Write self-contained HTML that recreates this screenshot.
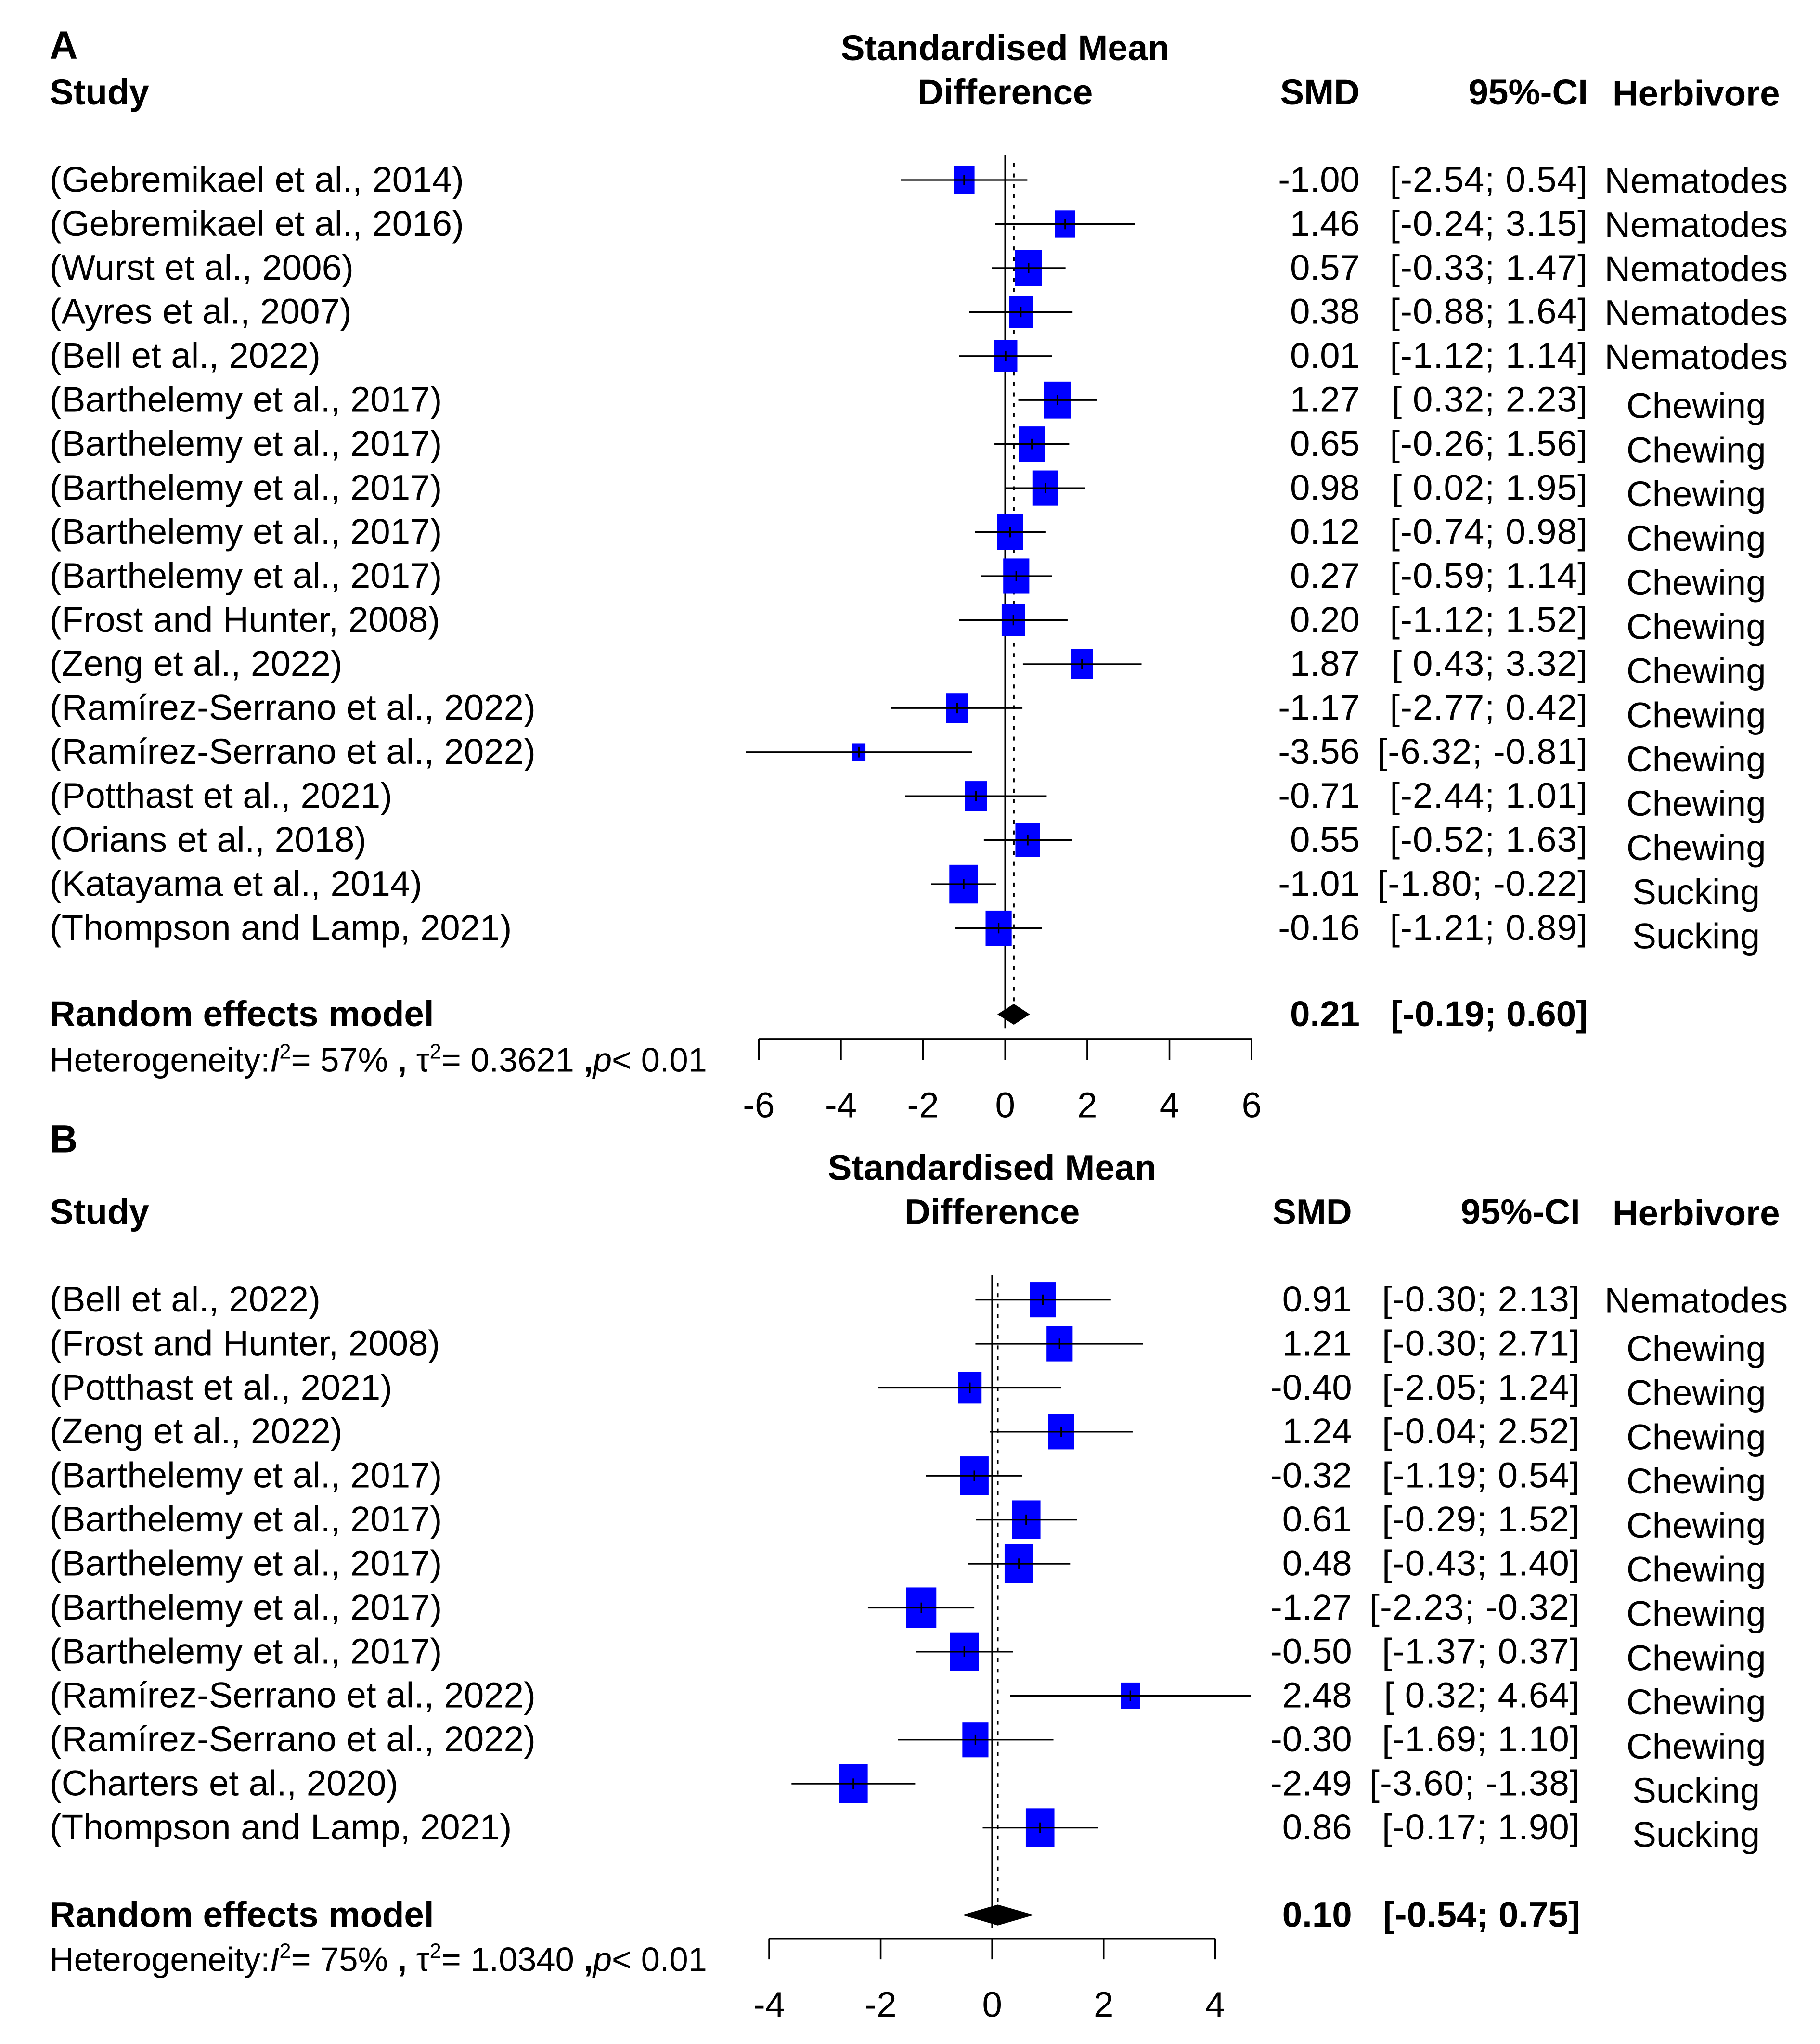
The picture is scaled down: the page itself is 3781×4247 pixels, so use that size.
<!DOCTYPE html>
<html><head><meta charset="utf-8">
<style>
html,body{margin:0;padding:0;background:#fff;}
svg{display:block;}
text{font-family:"Liberation Sans",Arial,sans-serif;fill:#000;}
</style></head>
<body>
<svg id="chart" width="3781" height="4247" viewBox="0 0 1389 1560" xmlns="http://www.w3.org/2000/svg">
<g id="root" transform="scale(0.995)"></g>
</svg>
<script>
// ---- Panel A data ----
const studiesA = ["(Gebremikael et al., 2014)","(Gebremikael et al., 2016)","(Wurst et al., 2006)","(Ayres et al., 2007)","(Bell et al., 2022)","(Barthelemy et al., 2017)","(Barthelemy et al., 2017)","(Barthelemy et al., 2017)","(Barthelemy et al., 2017)","(Barthelemy et al., 2017)","(Frost and Hunter, 2008)","(Zeng et al., 2022)","(Ramírez-Serrano et al., 2022)","(Ramírez-Serrano et al., 2022)","(Potthast et al., 2021)","(Orians et al., 2018)","(Katayama et al., 2014)","(Thompson and Lamp, 2021)"];
const smdA = [-1.00,1.46,0.57,0.38,0.01,1.27,0.65,0.98,0.12,0.27,0.20,1.87,-1.17,-3.56,-0.71,0.55,-1.01,-0.16];
const lowA = [-2.54,-0.24,-0.33,-0.88,-1.12,0.32,-0.26,0.02,-0.74,-0.59,-1.12,0.43,-2.77,-6.32,-2.44,-0.52,-1.80,-1.21];
const highA = [0.54,3.15,1.47,1.64,1.14,2.23,1.56,1.95,0.98,1.14,1.52,3.32,0.42,-0.81,1.01,1.63,-0.22,0.89];
const weightA = [8,7.7,10.3,9,9,10.5,10,10,10,10,9,8.5,8.5,5,8.5,9.5,11,10];
const herbA = ["Nematodes","Nematodes","Nematodes","Nematodes","Nematodes","Chewing","Chewing","Chewing","Chewing","Chewing","Chewing","Chewing","Chewing","Chewing","Chewing","Chewing","Sucking","Sucking"];
const pooledA = [0.21,-0.19,0.60];
const ticksA = [-6,-4,-2,0,2,4,6];
const hetA = ["57%","0.3621"];
// ---- Panel B data ----
const studiesB = ["(Bell et al., 2022)","(Frost and Hunter, 2008)","(Potthast et al., 2021)","(Zeng et al., 2022)","(Barthelemy et al., 2017)","(Barthelemy et al., 2017)","(Barthelemy et al., 2017)","(Barthelemy et al., 2017)","(Barthelemy et al., 2017)","(Ramírez-Serrano et al., 2022)","(Ramírez-Serrano et al., 2022)","(Charters et al., 2020)","(Thompson and Lamp, 2021)"];
const smdB = [0.91,1.21,-0.40,1.24,-0.32,0.61,0.48,-1.27,-0.50,2.48,-0.30,-2.49,0.86];
const lowB = [-0.30,-0.30,-2.05,-0.04,-1.19,-0.29,-0.43,-2.23,-1.37,0.32,-1.69,-3.60,-0.17];
const highB = [2.13,2.71,1.24,2.52,0.54,1.52,1.40,-0.32,0.37,4.64,1.10,-1.38,1.90];
const weightB = [10,10,9,10,11,11,11,11.5,11,7.5,10,11,11];
const herbB = ["Nematodes","Chewing","Chewing","Chewing","Chewing","Chewing","Chewing","Chewing","Chewing","Chewing","Chewing","Sucking","Sucking"];
const pooledB = [0.10,-0.54,0.75];
const ticksB = [-4,-2,0,2,4];
const hetB = ["75%","1.0340"];

const NS="http://www.w3.org/2000/svg";
const svg=document.getElementById('root');
const FS=27.5;
function mk(tag,attrs,parent){const e=document.createElementNS(NS,tag);for(const k in attrs)e.setAttribute(k,attrs[k]);(parent||svg).appendChild(e);return e;}
function txt(s,x,y,size,anchor,bold,parent){const t=mk('text',{x:x,y:y,'font-size':size,'text-anchor':anchor||'start','font-weight':bold?'bold':'normal'},parent);t.textContent=s;return t;}
function f2(v){return v.toFixed(2);}
function ci(l,h){const a=l<0?f2(l):' '+f2(l);return '['+a+'; '+f2(h)+']';}

function panel(cfg){
  const g=mk('g',{});
  
  
  const X=v=>cfg.x0+v*cfg.scale;
  const Y=i=>cfg.row0+i*cfg.dy;
  const pl=txt(cfg.letter,38,cfg.letterY,30,'start',true,g);
  
  let h=txt('Standardised Mean',cfg.x0,cfg.top,FS,'middle',true,g);
  
  h=txt('Difference',cfg.x0,cfg.top+34,FS,'middle',true,g);
  
  h=txt('Study',38,cfg.top+34,FS,'start',true,g);
  
  h=txt('SMD',cfg.smdX,cfg.top+34,FS,'end',true,g);
  
  h=txt('95%-CI',cfg.ciX,cfg.top+34,FS,'end',true,g);
  
  h=txt('Herbivore',1301,cfg.top+35,FS,'middle',true,g);
  
  const zl=mk('line',{x1:X(0),x2:X(0),y1:cfg.zeroTop,y2:cfg.axisY-8,stroke:'#000','stroke-width':1.3},g);
  
  const dl=mk('line',{x1:X(cfg.pooled[0]),x2:X(cfg.pooled[0]),y1:cfg.zeroTop+6,y2:cfg.axisY-8,stroke:'#000','stroke-width':1.3,'stroke-dasharray':'3,5'},g);
  
  cfg.studies.forEach((s,i)=>{
    const y=Y(i);
    const t=txt(s,38,y+9,FS,'start',false,g);
    
    const w=cfg.weight[i],hh=w*1.35;
    const r=mk('rect',{x:X(cfg.smd[i])-w,y:y-hh,width:2*w,height:2*hh,fill:'#0000ff'},g);
    
    const l=mk('line',{x1:X(cfg.low[i]),x2:X(cfg.high[i]),y1:y,y2:y,stroke:'#000','stroke-width':1.2},g);
    
    const tk=mk('line',{x1:X(cfg.smd[i]),x2:X(cfg.smd[i]),y1:y-4,y2:y+4,stroke:'#000','stroke-width':1.2},g);
    
    const sv=txt(f2(cfg.smd[i]),cfg.smdX,y+9,FS,'end',false,g);
    
    const cv=txt(ci(cfg.low[i],cfg.high[i]),cfg.ciX,y+9,FS,'end',false,g);
    
    cv.setAttribute('xml:space','preserve');cv.style.whiteSpace='pre';
    cv.setAttribute('letter-spacing','0.4');
    const hb=txt(cfg.herb[i],1301,y+10+(cfg.herb[i]==='Nematodes'?0:3+i*0.15),FS,'middle',false,g);
    
  });
  const py=cfg.pooledY;
  let t=txt('Random effects model',38,py+9,FS,'start',true,g);
  
  const p=cfg.pooled;
  const d=mk('polygon',{points:`${X(p[1])},${py} ${X(p[0])},${py-8} ${X(p[2])},${py} ${X(p[0])},${py+8}`,fill:'#000'},g);
  
  t=txt(f2(p[0]),cfg.smdX,py+9,FS,'end',true,g);
  
  t=txt(ci(p[1],p[2]),cfg.ciX,py+9,FS,'end',true,g);
  
  const ht=mk('text',{x:38,y:cfg.axisY+25,'font-size':26},g);
  
  ht.setAttribute('xml:space','preserve');ht.style.whiteSpace='pre';
  ht.innerHTML='Heterogeneity:<tspan font-style="italic">I</tspan><tspan font-size="16" dy="-10">2</tspan><tspan dy="10">= '+cfg.het[0]+' </tspan><tspan font-weight="bold">,</tspan><tspan> τ</tspan><tspan font-size="16" dy="-10">2</tspan><tspan dy="10">= '+cfg.het[1]+' </tspan><tspan font-weight="bold">,</tspan><tspan font-style="italic">p</tspan><tspan>&lt; 0.01</tspan>';
  const ax=mk('line',{x1:X(cfg.ticks[0]),x2:X(cfg.ticks[cfg.ticks.length-1]),y1:cfg.axisY,y2:cfg.axisY,stroke:'#000','stroke-width':1.3},g);
  
  cfg.ticks.forEach(v=>{
    const tl=mk('line',{x1:X(v),x2:X(v),y1:cfg.axisY,y2:cfg.axisY+16,stroke:'#000','stroke-width':1.3},g);
    
    const lb=txt(String(v),X(v),cfg.axisY+60,FS,'middle',false,g);
    
  });
}
panel({letter:'A',letterY:45,top:46,x0:771,scale:31.5,row0:138,dy:33.76,zeroTop:119,axisY:797,pooledY:778,
  smdX:1043,ciX:1218,studies:studiesA,smd:smdA,low:lowA,high:highA,weight:weightA,herb:herbA,pooled:pooledA,ticks:ticksA,het:hetA});
panel({letter:'B',letterY:884,top:905,x0:761,scale:42.75,row0:997,dy:33.75,zeroTop:978,axisY:1487,pooledY:1469,
  smdX:1037,ciX:1212,studies:studiesB,smd:smdB,low:lowB,high:highB,weight:weightB,herb:herbB,pooled:pooledB,ticks:ticksB,het:hetB});
</script>
</body></html>
